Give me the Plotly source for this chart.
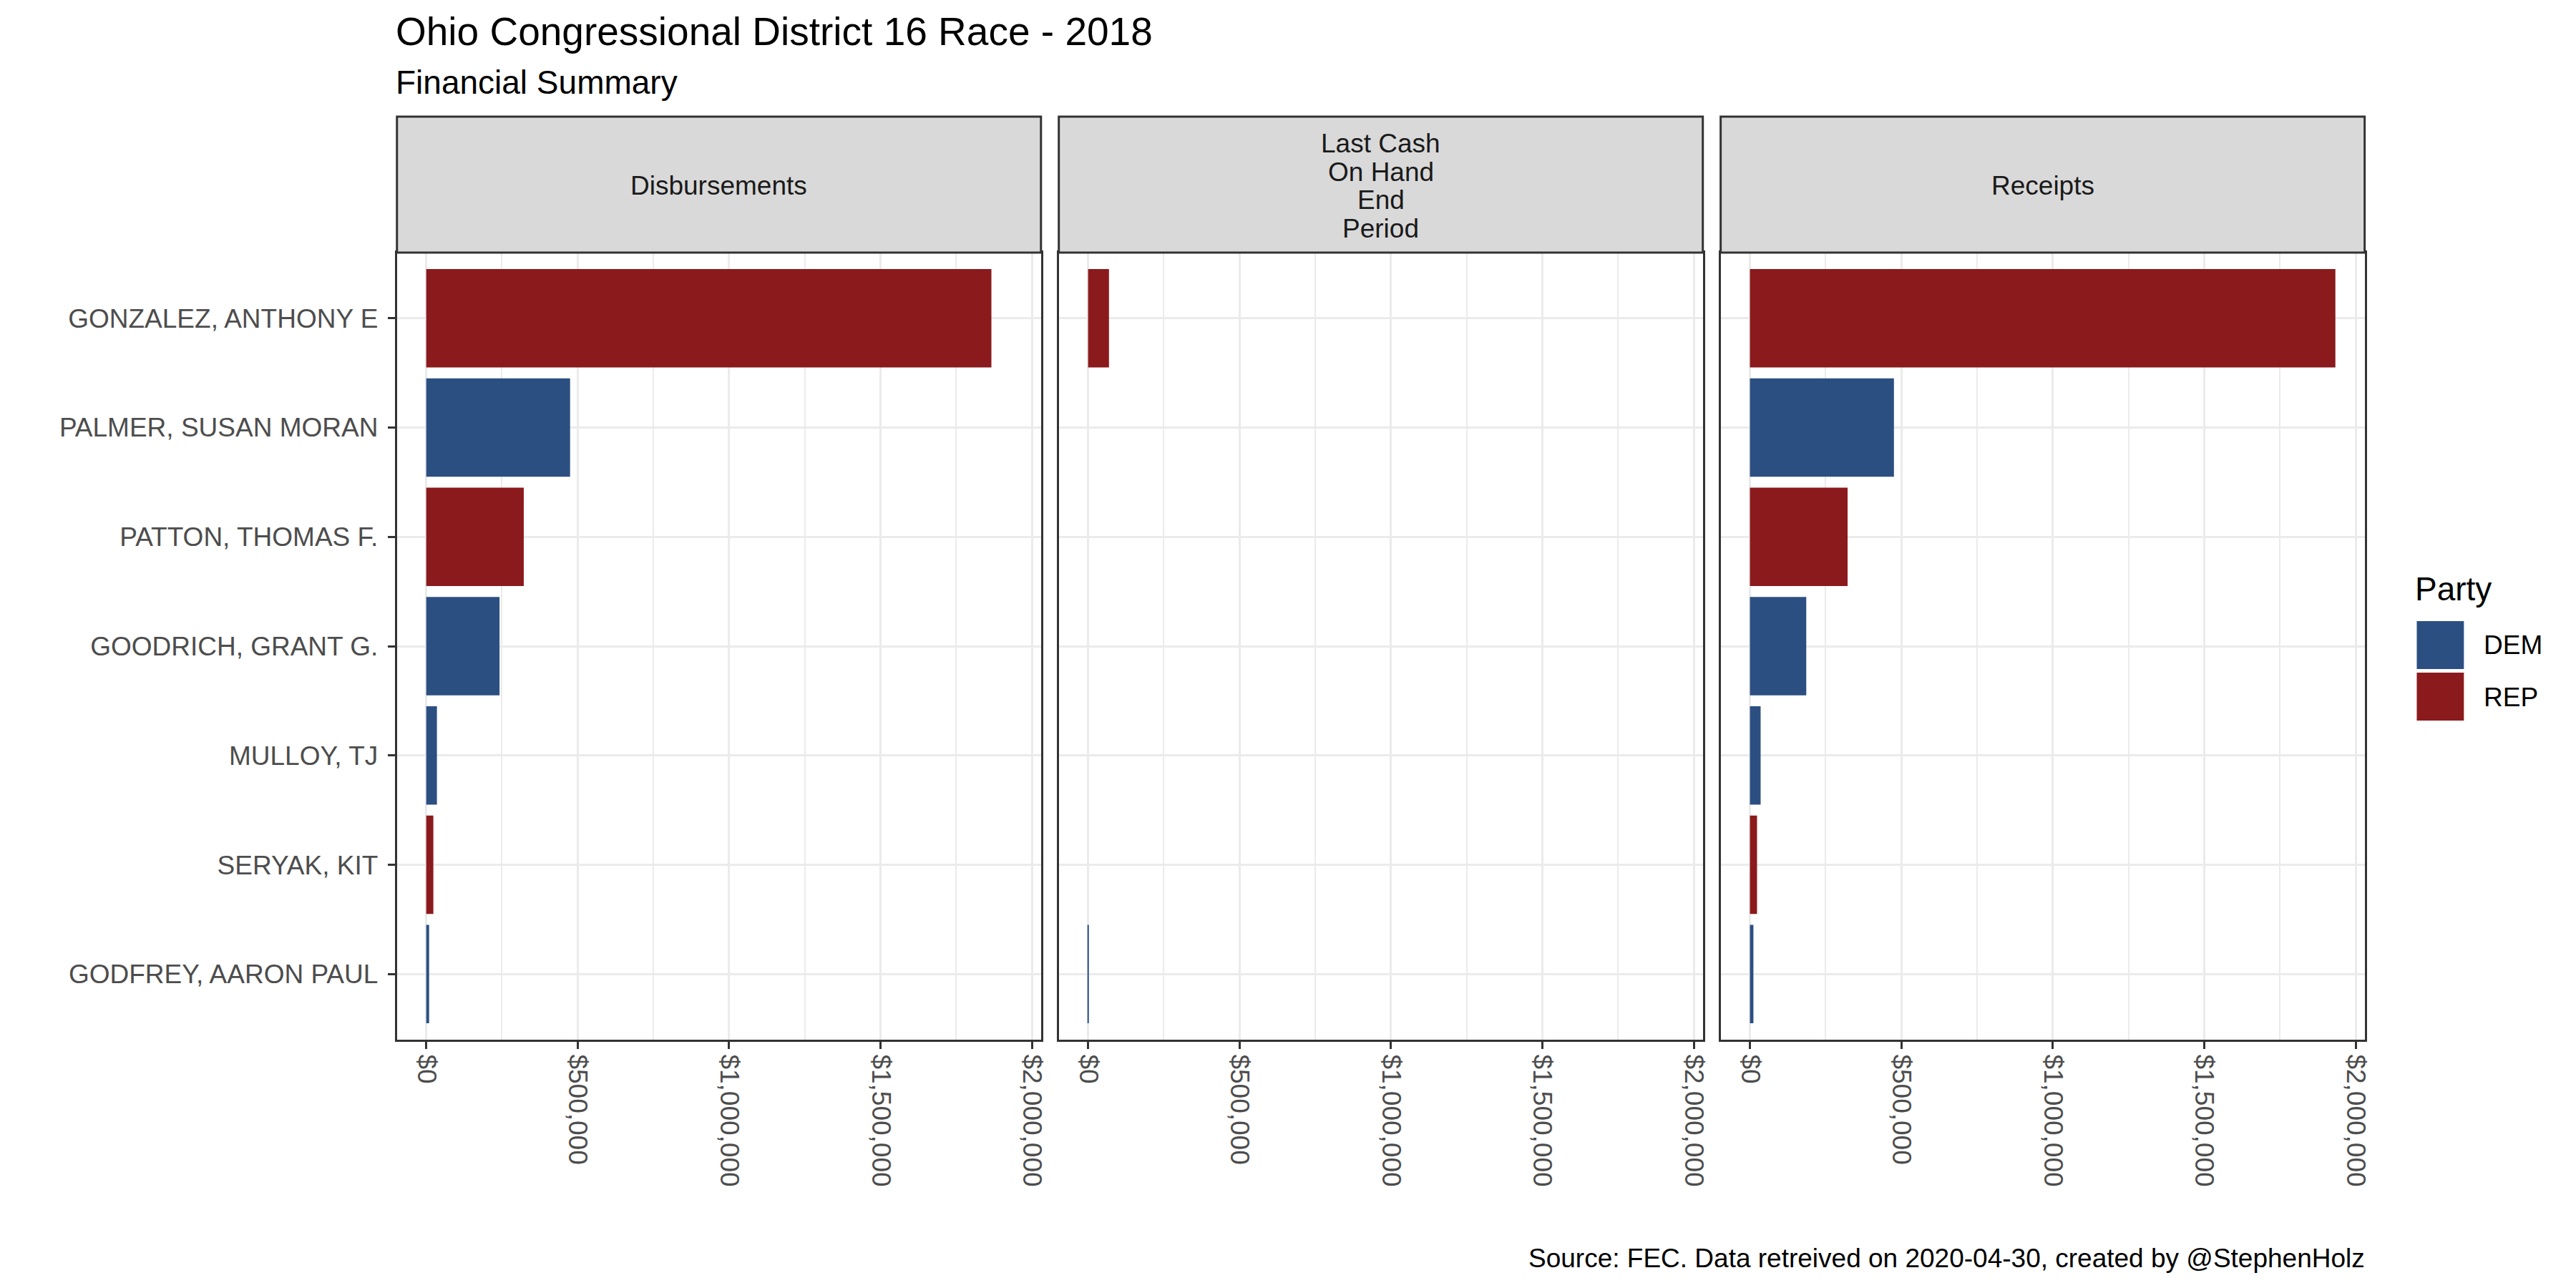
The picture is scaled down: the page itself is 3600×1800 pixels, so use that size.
import plotly.graph_objects as go

# ---------------- data ----------------
candidates = ["GONZALEZ, ANTHONY E", "PALMER, SUSAN MORAN", "PATTON, THOMAS F.",
              "GOODRICH, GRANT G.", "MULLOY, TJ", "SERYAK, KIT", "GODFREY, AARON PAUL"]
party = ["REP", "DEM", "REP", "DEM", "DEM", "REP", "DEM"]
disbursements = [1866000, 475000, 322000, 242000, 35300, 23500, 9500]
cash_on_hand = [69000, 0, 0, 0, 0, 0, 2000]
receipts = [1933000, 475500, 322500, 186000, 35300, 23500, 11500]
facet_labels = [["Disbursements"], ["Last Cash", "On Hand", "End", "Period"], ["Receipts"]]
party_levels = ["DEM", "REP"]
party_colors = {"DEM": "#2C4F82", "REP": "#8B1A1D"}
x_ticks = [0, 500000, 1000000, 1500000, 2000000]
x_tick_labels = ["$" + format(v, ",d") for v in x_ticks]

title = "Ohio Congressional District 16 Race - 2018"
subtitle = "Financial Summary"
caption = "Source: FEC. Data retreived on 2020-04-30, created by @StephenHolz"

W, H = 3600, 1800
FONT = "Liberation Sans, Arial, sans-serif"
DX = 6


def px(x):
    return (x + DX) / W


def py(y):
    return 1 - y / H


panels_x = [(550, 1452), (1477, 2379), (2404, 3306)]
panel_top, panel_bot = 353, 1453
strip_top = 163

series = [disbursements, cash_on_hand, receipts]
vmax = max(max(s) for s in series)
x_range = [-0.05 * vmax, 1.05 * vmax]
colors = [party_colors[p] for p in party]

fig = go.Figure()
for i, vals in enumerate(series):
    sfx = "" if i == 0 else str(i + 1)
    fig.add_trace(go.Bar(
        x=vals, y=candidates, orientation="h", width=0.9,
        marker=dict(color=colors, line=dict(width=0)),
        xaxis="x" + sfx, yaxis="y" + sfx, showlegend=False,
        hovertemplate="%{y}: $%{x:,.0f}<extra></extra>",
    ))

layout = dict(
    width=W, height=H, margin=dict(l=0, r=0, t=0, b=0),
    paper_bgcolor="white", plot_bgcolor="white",
    font=dict(family=FONT, color="#1A1A1A"),
    showlegend=False, barmode="overlay",
)

cat_order = list(reversed(candidates))
for i, (x0, x1) in enumerate(panels_x):
    sfx = "" if i == 0 else str(i + 1)
    layout["xaxis" + sfx] = dict(
        domain=[px(x0), px(x1)], anchor="y" + sfx, range=x_range,
        tickmode="array", tickvals=x_ticks, ticktext=x_tick_labels,
        tickangle=90, tickfont=dict(size=37, color="#4D4D4D", family=FONT),
        ticks="outside", ticklen=10, tickwidth=3, tickcolor="#333333",
        showgrid=True, gridcolor="#EBEBEB", gridwidth=3,
        minor=dict(dtick=250000, tick0=0, showgrid=True, gridcolor="#EBEBEB",
                   gridwidth=1.6, ticks=""),
        zeroline=False, showline=True, mirror=True, linecolor="#333333", linewidth=3,
        fixedrange=True,
    )
    layout["yaxis" + sfx] = dict(
        domain=[py(panel_bot), py(panel_top)], anchor="x" + sfx,
        type="category", categoryorder="array", categoryarray=cat_order,
        range=[-0.6, len(candidates) - 0.4],
        showticklabels=(i == 0),
        tickfont=dict(size=37, color="#4D4D4D", family=FONT),
        ticks="outside" if i == 0 else "", ticklen=10, tickwidth=3, tickcolor="#333333",
        ticklabelstandoff=6,
        showgrid=True, gridcolor="#EBEBEB", gridwidth=3,
        zeroline=False, showline=True, mirror=True, linecolor="#333333", linewidth=3,
        fixedrange=True,
    )

shapes = []
annotations = []
line_gap = 39.5
for i, (x0, x1) in enumerate(panels_x):
    shapes.append(dict(type="rect", xref="paper", yref="paper",
                       x0=px(x0), x1=px(x1), y0=py(panel_top), y1=py(strip_top),
                       fillcolor="#D9D9D9", line=dict(color="#333333", width=3)))
    lines = facet_labels[i]
    mid = (strip_top + panel_top) / 2 + 2
    for k, ln in enumerate(lines):
        yc = mid + (k - (len(lines) - 1) / 2) * line_gap
        annotations.append(dict(text=ln, xref="paper", yref="paper",
                                x=px((x0 + x1) / 2), y=py(yc),
                                xanchor="center", yanchor="middle", showarrow=False,
                                font=dict(size=37, color="#1A1A1A", family=FONT)))

# titles
annotations.append(dict(text=title, xref="paper", yref="paper", x=px(546), y=py(44),
                        xanchor="left", yanchor="middle", showarrow=False,
                        font=dict(size=55, color="black", family=FONT)))
annotations.append(dict(text=subtitle, xref="paper", yref="paper", x=px(546), y=py(115),
                        xanchor="left", yanchor="middle", showarrow=False,
                        font=dict(size=46, color="black", family=FONT)))
annotations.append(dict(text=caption, xref="paper", yref="paper", x=px(3308), y=py(1758),
                        xanchor="right", yanchor="middle", showarrow=False,
                        font=dict(size=37, color="black", family=FONT)))

# legend (drawn manually so the keys match the reference size)
annotations.append(dict(text="Party", xref="paper", yref="paper", x=px(3375), y=py(823),
                        xanchor="left", yanchor="middle", showarrow=False,
                        font=dict(size=46, color="black", family=FONT)))
key_tops = [868, 940]
for lvl, kt in zip(party_levels, key_tops):
    shapes.append(dict(type="rect", xref="paper", yref="paper",
                       x0=px(3379), x1=px(3445), y0=py(kt + 67), y1=py(kt),
                       fillcolor=party_colors[lvl], line=dict(width=0)))
    annotations.append(dict(text=lvl, xref="paper", yref="paper", x=px(3471), y=py(kt + 34),
                            xanchor="left", yanchor="middle", showarrow=False,
                            font=dict(size=37, color="black", family=FONT)))

layout["shapes"] = shapes
layout["annotations"] = annotations
fig.update_layout(**layout)
fig.write_html("out.html", config={"displayModeBar": False},
               post_script="document.body.style.margin='0px';")
